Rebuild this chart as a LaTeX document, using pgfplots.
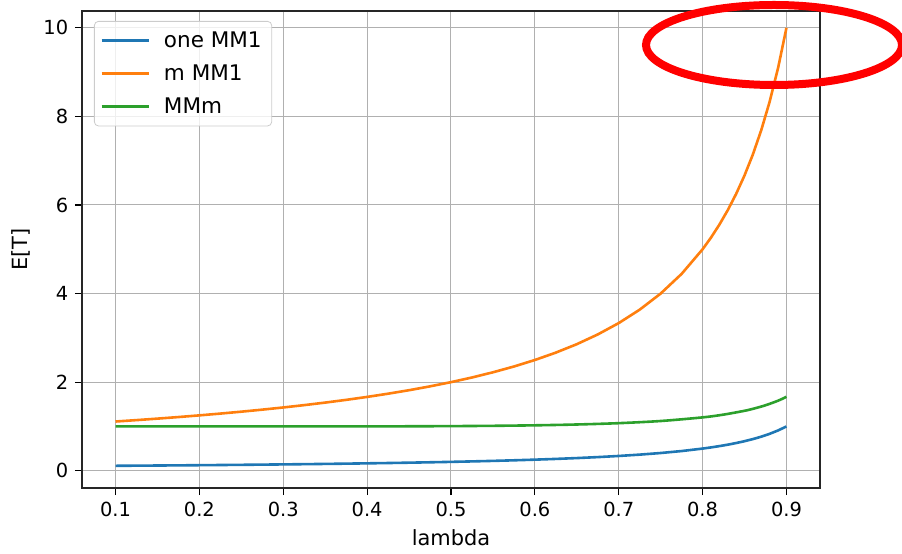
\documentclass[border=0pt]{standalone}
\usepackage{pgfplots}
\pgfplotsset{compat=1.18}
\usepackage{pgfplotstable}
\usepackage{fontspec}
\setmainfont{DejaVu Sans}

\definecolor{c0}{HTML}{1F77B4}
\definecolor{c1}{HTML}{FF7F0E}
\definecolor{c2}{HTML}{2CA02C}

% lambda, one MM1, m MM1
\pgfplotstableread{
x     one     m
0.1   0.1111  1.1111
0.125 0.1143  1.1429
0.15  0.1176  1.1765
0.175 0.1212  1.2121
0.2   0.125   1.25
0.225 0.1290  1.2903
0.25  0.1333  1.3333
0.275 0.1379  1.3793
0.3   0.1429  1.4286
0.325 0.1481  1.4815
0.35  0.1538  1.5385
0.375 0.16    1.6
0.4   0.1667  1.6667
0.425 0.1739  1.7391
0.45  0.1818  1.8182
0.475 0.1905  1.9048
0.5   0.2     2.0
0.525 0.2105  2.1053
0.55  0.2222  2.2222
0.575 0.2353  2.3529
0.6   0.25    2.5
0.625 0.2667  2.6667
0.65  0.2857  2.8571
0.675 0.3077  3.0769
0.7   0.3333  3.3333
0.725 0.3636  3.6364
0.75  0.4     4.0
0.775 0.4444  4.4444
0.8   0.5     5.0
0.81  0.5263  5.2632
0.82  0.5556  5.5556
0.83  0.5882  5.8824
0.84  0.625   6.25
0.85  0.6667  6.6667
0.86  0.7143  7.1429
0.87  0.7692  7.6923
0.88  0.8333  8.3333
0.89  0.9091  9.0909
0.9   1.0     10.0
}\mmone

% lambda, MMm
\pgfplotstableread{
x     mmm
0.1   1.0
0.2   1.0
0.3   1.0002
0.35  1.0004
0.4   1.0015
0.45  1.0034
0.5   1.0072
0.55  1.0140
0.6   1.0253
0.65  1.0439
0.7   1.0739
0.75  1.1226
0.8   1.2046
0.825 1.2670
0.85  1.3533
0.86  1.3973
0.875 1.4776
0.89  1.5814
0.9   1.6687
}\mmm

\begin{document}
\fontsize{9.75}{11}\selectfont
\begin{tikzpicture}
\begin{axis}[
    at={(0,0)}, anchor=south west,
    scale only axis,
    width=369bp, height=238.5bp,
    xmin=0.06, xmax=0.94,
    ymin=-0.39, ymax=10.38,
    xtick={0.1,0.2,...,0.9},
    ytick={0,2,4,6,8,10},
    xticklabel style={/pgf/number format/fixed, /pgf/number format/precision=1},
    /pgf/number format/assume math mode=true,
    tick label style={font=\fontsize{9.75}{11}\selectfont},
    label style={font=\fontsize{10.5}{12}\selectfont},
    xlabel={lambda}, ylabel={E[T]},
    tick align=outside, tick pos=left,
    major tick length=3.5bp,
    every tick/.style={black, line width=0.6bp},
    axis line style={line width=0.7bp, black!85},
    grid=major,
    major grid style={color=black!31, line width=0.5bp},
    legend cell align=left,
    legend style={at={(0,1)}, anchor=north west, xshift=6bp, yshift=-5bp,
        draw=black!20, rounded corners=2bp, fill=white, fill opacity=0.8,
        text opacity=1, inner xsep=3bp, inner ysep=3bp,
        row sep=3.2bp, column sep=5bp,
        font=\fontsize{10.8}{12}\selectfont},
    legend image code/.code={\draw[#1] (0bp,0bp) -- (23.5bp,0bp);},
]
\addplot[c0, line width=1.3bp] table[x=x, y=one] {\mmone};
\addlegendentry{one MM1\hspace{4.5bp}}
\addplot[c1, line width=1.3bp] table[x=x, y=m] {\mmone};
\addlegendentry{m MM1}
\addplot[c2, line width=1.3bp, smooth] table[x=x, y=mmm] {\mmm};
\addlegendentry{MMm}
\end{axis}
\draw[red, line width=4bp] (346bp,221.5bp) ellipse [x radius=64bp, y radius=20bp];
\pgfresetboundingbox
\useasboundingbox (-41bp,-33bp) rectangle (410bp,244bp);
\end{tikzpicture}
\end{document}
